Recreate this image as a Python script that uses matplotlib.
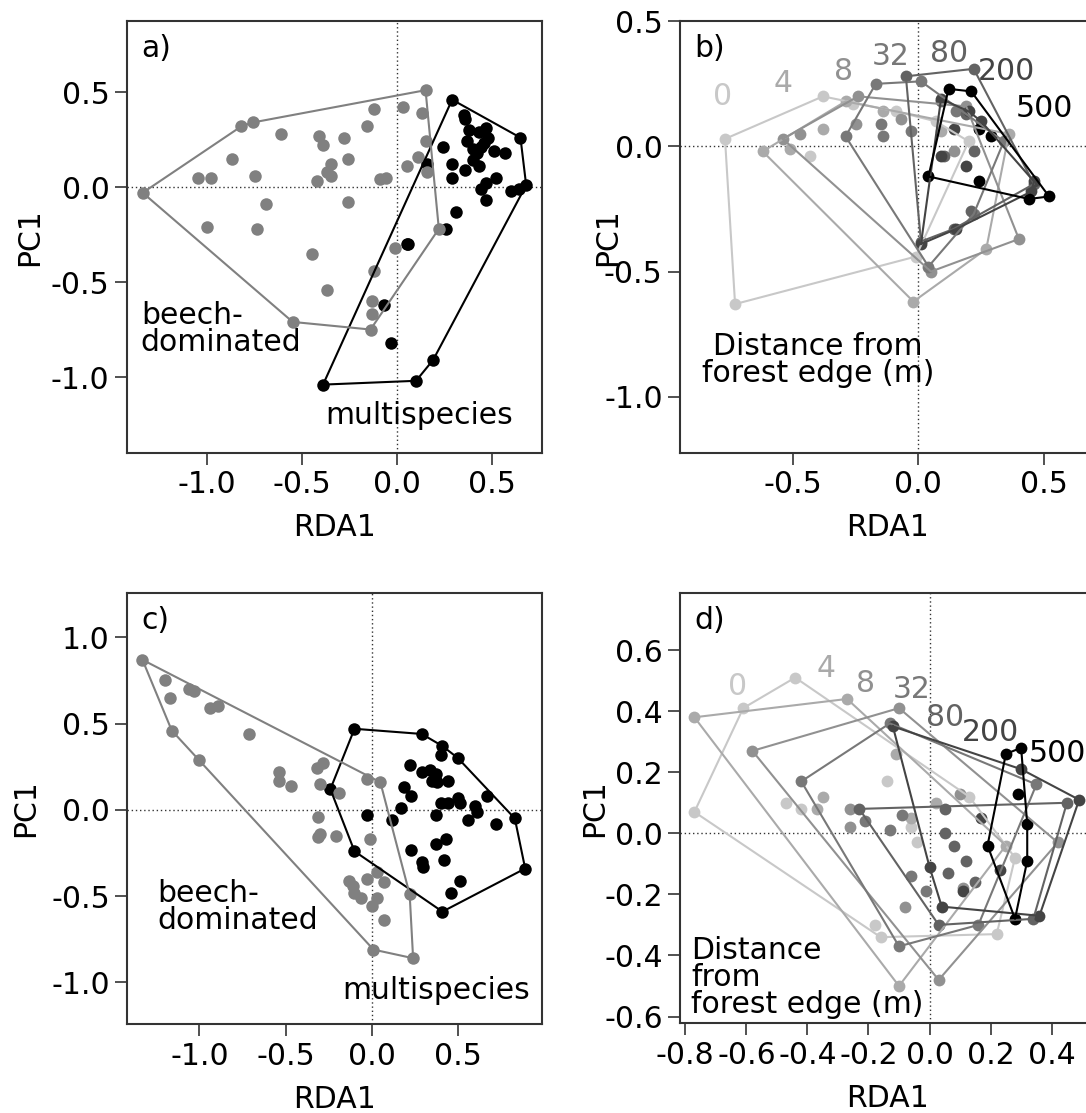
import matplotlib
matplotlib.use("Agg")
import matplotlib.pyplot as plt

plt.rcParams['font.family'] = 'DejaVu Sans'
plt.rcParams['font.size'] = 21.5
plt.rcParams['axes.unicode_minus'] = False

# ---- panel a: forest type (beech-dominated vs multispecies)
a_beech = [(-1.34, -0.03), (-1.05, 0.05), (-0.98, 0.05), (-0.87, 0.15), (-0.82, 0.32),
           (-0.76, 0.34), (-0.75, 0.06), (-0.61, 0.28), (-0.69, -0.09), (-1.00, -0.21),
           (-0.74, -0.22), (-0.45, -0.35), (-0.37, -0.54), (-0.55, -0.71), (-0.41, 0.27),
           (-0.39, 0.22), (-0.42, 0.03), (-0.37, 0.08), (-0.35, 0.12), (-0.35, 0.06),
           (-0.28, 0.26), (-0.26, 0.15), (-0.26, -0.08), (-0.16, 0.32), (-0.12, 0.41),
           (-0.09, 0.04), (-0.06, 0.05), (0.03, 0.42), (0.13, 0.39), (0.15, 0.51),
           (0.15, 0.24), (0.11, 0.16), (0.05, 0.11), (0.16, 0.08), (0.22, -0.22),
           (-0.01, -0.32), (-0.12, -0.44), (-0.13, -0.60), (-0.13, -0.67), (-0.14, -0.75)]
a_multi = [(0.29, 0.46), (0.35, 0.38), (0.36, 0.36), (0.38, 0.30), (0.43, 0.29),
           (0.47, 0.31), (0.48, 0.26), (0.37, 0.24), (0.40, 0.20), (0.44, 0.21),
           (0.42, 0.18), (0.46, 0.23), (0.51, 0.19), (0.57, 0.18), (0.65, 0.26),
           (0.24, 0.21), (0.29, 0.12), (0.29, 0.05), (0.36, 0.09), (0.43, 0.11),
           (0.40, 0.14), (0.52, 0.05), (0.47, 0.02), (0.44, -0.01), (0.47, -0.07),
           (0.60, -0.02), (0.64, -0.01), (0.68, 0.01), (0.31, -0.13), (0.26, -0.22),
           (0.05, -0.30), (0.06, -0.30), (-0.07, -0.62), (-0.03, -0.82), (0.19, -0.91),
           (0.10, -1.02), (-0.39, -1.04), (0.16, 0.12)]

# ---- panel b: distance from forest edge (m)
distances = ['0', '4', '8', '32', '80', '200', '500']
greys = ['#c8c8c8', '#aaaaaa', '#919191', '#787878', '#636363', '#444444', '#000000']
b_0 = [(-0.77, 0.03), (-0.38, 0.20), (0.20, 0.02), (-0.01, -0.44), (-0.73, -0.63),
       (-0.43, -0.04), (-0.26, 0.17), (-0.09, 0.14), (0.07, 0.10)]
b_4 = [(-0.62, -0.02), (-0.29, 0.18), (0.36, 0.05), (0.27, -0.41), (-0.02, -0.62),
       (-0.51, -0.01), (-0.38, 0.07), (-0.14, 0.14), (0.09, 0.06)]
b_8 = [(-0.54, 0.03), (-0.24, 0.20), (0.19, 0.16), (0.40, -0.37), (0.05, -0.50),
       (-0.47, 0.05), (-0.25, 0.09), (-0.07, 0.11), (0.14, -0.02)]
b_32 = [(-0.29, 0.04), (-0.17, 0.25), (0.01, 0.26), (0.34, 0.02), (0.22, -0.27),
        (0.04, -0.48), (-0.14, 0.04), (-0.03, 0.06), (0.15, 0.14), (-0.15, 0.09)]
b_80 = [(-0.05, 0.28), (0.22, 0.31), (0.46, -0.15), (0.14, -0.33), (0.01, -0.38),
        (0.09, 0.18), (0.19, 0.13), (0.22, -0.02), (0.10, -0.04), (0.21, -0.26)]
b_200 = [(0.09, 0.19), (0.20, 0.14), (0.46, -0.14), (0.45, -0.18), (0.15, -0.33),
         (0.01, -0.39), (0.14, 0.07), (0.25, 0.10), (0.19, -0.08), (0.09, -0.04)]
b_500 = [(0.12, 0.23), (0.21, 0.22), (0.52, -0.20), (0.44, -0.21), (0.04, -0.12),
         (0.24, 0.07), (0.29, 0.04), (0.24, -0.14)]
b_lab = [(-0.78, 0.20), (-0.54, 0.25), (-0.30, 0.30), (-0.11, 0.36), (0.12, 0.37),
         (0.35, 0.30), (0.50, 0.15)]

# ---- panel c: forest type, second data set
c_beech = [(-1.33, 0.87), (-1.20, 0.75), (-1.17, 0.65), (-1.06, 0.70), (-1.03, 0.69),
           (-0.94, 0.59), (-0.89, 0.60), (-1.16, 0.46), (-1.00, 0.29), (-0.71, 0.44),
           (-0.54, 0.22), (-0.54, 0.17), (-0.47, 0.14), (-0.32, 0.24), (-0.28, 0.27),
           (-0.30, 0.15), (-0.19, 0.10), (-0.03, 0.18), (0.05, 0.16), (-0.31, -0.04),
           (-0.31, -0.16), (-0.30, -0.14), (-0.21, -0.15), (-0.01, -0.17), (-0.13, -0.41),
           (-0.10, -0.48), (-0.06, -0.51), (-0.03, -0.40), (0.03, -0.36), (0.07, -0.42),
           (0.03, -0.51), (0.00, -0.56), (0.07, -0.64), (0.22, -0.49), (0.01, -0.81),
           (0.24, -0.86), (-0.11, -0.44)]
c_multi = [(-0.10, 0.47), (0.29, 0.44), (0.41, 0.37), (0.40, 0.32), (0.50, 0.30),
           (0.22, 0.26), (0.29, 0.22), (0.34, 0.23), (0.37, 0.21), (0.38, 0.16),
           (0.44, 0.17), (0.35, 0.17), (0.19, 0.13), (0.23, 0.08), (0.17, 0.01),
           (0.12, -0.06), (-0.03, -0.03), (0.37, -0.03), (0.40, 0.04), (0.44, 0.04),
           (0.50, 0.07), (0.51, 0.04), (0.60, 0.02), (0.61, -0.01), (0.67, 0.08),
           (0.56, -0.06), (0.72, -0.08), (0.83, -0.05), (0.89, -0.34), (0.23, -0.23),
           (0.37, -0.20), (0.43, -0.17), (0.42, -0.29), (0.29, -0.30), (0.30, -0.33),
           (0.51, -0.41), (0.46, -0.48), (0.41, -0.59), (-0.10, -0.24), (-0.24, 0.12)]

# ---- panel d: distance from forest edge, second data set
d_0 = [(-0.77, 0.07), (-0.61, 0.41), (-0.44, 0.51), (0.13, 0.12), (0.22, -0.33),
       (-0.18, -0.30), (-0.47, 0.10), (-0.42, 0.08), (-0.14, 0.17), (-0.06, 0.02),
       (-0.04, -0.03), (-0.16, -0.34), (0.28, -0.08)]
d_4 = [(-0.77, 0.38), (-0.27, 0.44), (0.25, -0.04), (-0.10, -0.50), (-0.37, 0.08),
       (-0.35, 0.12), (-0.11, 0.26), (-0.06, 0.05), (0.02, 0.10)]
d_8 = [(-0.58, 0.27), (-0.10, 0.41), (0.42, -0.03), (0.03, -0.48), (-0.26, 0.08),
       (-0.26, 0.02), (-0.08, -0.24), (0.10, 0.13), (0.11, -0.18)]
d_32 = [(-0.42, 0.17), (-0.13, 0.36), (0.35, 0.16), (0.16, -0.30), (-0.10, -0.37),
        (-0.21, 0.04), (-0.13, 0.01), (-0.09, 0.06), (-0.06, -0.14), (-0.01, -0.19)]
d_80 = [(-0.23, 0.08), (0.45, 0.10), (0.34, -0.28), (0.03, -0.30), (0.05, 0.08),
        (0.05, 0.00), (0.08, -0.04), (0.12, -0.09), (0.15, -0.16), (0.06, -0.13)]
d_200 = [(-0.12, 0.35), (0.49, 0.11), (0.36, -0.27), (0.04, -0.24), (0.30, 0.21),
         (0.17, 0.05), (0.23, -0.12), (0.11, -0.19), (0.00, -0.11)]
d_500 = [(0.25, 0.26), (0.30, 0.28), (0.32, 0.03), (0.32, -0.09), (0.28, -0.28),
         (0.19, -0.04), (0.29, 0.13)]
d_lab = [(-0.63, 0.48), (-0.34, 0.54), (-0.21, 0.49), (-0.06, 0.47), (0.05, 0.38),
         (0.20, 0.33), (0.42, 0.26)]


def hull(pts):
    pts = sorted(set(pts))

    def cross(o, a, b):
        return (a[0] - o[0]) * (b[1] - o[1]) - (a[1] - o[1]) * (b[0] - o[0])
    lower, upper = [], []
    for p in pts:
        while len(lower) >= 2 and cross(lower[-2], lower[-1], p) <= 0:
            lower.pop()
        lower.append(p)
    for p in reversed(pts):
        while len(upper) >= 2 and cross(upper[-2], upper[-1], p) <= 0:
            upper.pop()
        upper.append(p)
    h = lower[:-1] + upper[:-1]
    return h + h[:1]


def draw_group(ax, pts, col, ms):
    xs, ys = zip(*pts)
    ax.plot(xs, ys, 'o', color=col, ms=ms, mec='none', zorder=3)
    hx, hy = zip(*hull(pts))
    ax.plot(hx, hy, '-', color=col, lw=1.5, zorder=4)


def setup(ax, xlim, ylim, xt, yt, letter, ylab_x):
    ax.set_xlim(xlim)
    ax.set_ylim(ylim)
    ax.set_xticks(xt)
    ax.set_yticks(yt)
    ax.set_xticklabels(['%.1f' % v for v in xt])
    ax.set_yticklabels(['%.1f' % v for v in yt])
    ax.axhline(0, color='#333333', lw=1, ls=(0, (1, 2)), zorder=1)
    ax.axvline(0, color='#333333', lw=1, ls=(0, (1, 2)), zorder=1)
    ax.tick_params(length=8.5, width=1.2, color='#333333', pad=4, labelsize=21.5)
    for s in ax.spines.values():
        s.set_linewidth(1.5)
        s.set_color('#333333')
    ax.set_xlabel('RDA1', labelpad=10)
    ax.set_ylabel('PC1')
    ax.yaxis.set_label_coords(ylab_x, 0.5)
    ax.text(0.035, 0.97, letter, transform=ax.transAxes, ha='left', va='top')


fig = plt.figure(figsize=(10.86, 11.13), dpi=100)
ax_a = fig.add_axes([0.1169, 0.5930, 0.3821, 0.3881])
ax_b = fig.add_axes([0.6262, 0.5930, 0.3821, 0.3881])
ax_c = fig.add_axes([0.1172, 0.0797, 0.3821, 0.3878])
ax_d = fig.add_axes([0.6262, 0.0806, 0.3821, 0.3869])

# a)
draw_group(ax_a, a_multi, 'black', 9)
draw_group(ax_a, a_beech, '#808080', 9)
setup(ax_a, (-1.423, 0.763), (-1.40, 0.874), [-1.0, -0.5, 0.0, 0.5],
      [-1.0, -0.5, 0.0, 0.5], 'a)', -0.20)
ax_a.text(-1.35, -0.60, 'beech-\ndominated', ha='left', va='top', linespacing=0.92)
ax_a.text(0.61, -1.25, 'multispecies', ha='right', va='baseline')

# b)
b_groups = [b_0, b_4, b_8, b_32, b_80, b_200, b_500]
for pts, col in zip(b_groups, greys):
    draw_group(ax_b, pts, col, 8.5)
for (lx, ly), lab, col in zip(b_lab, distances, greys):
    ax_b.text(lx, ly, lab, color=col, ha='center', va='center')
setup(ax_b, (-0.949, 0.703), (-1.225, 0.501), [-0.5, 0.0, 0.5],
      [-1.0, -0.5, 0.0, 0.5], 'b)', -0.14)
ax_b.text(-0.40, -0.74, 'Distance from\nforest edge (m)', ha='center', va='top',
          linespacing=0.92)

# c)
draw_group(ax_c, c_multi, 'black', 9)
draw_group(ax_c, c_beech, '#808080', 9)
setup(ax_c, (-1.418, 0.989), (-1.243, 1.259), [-1.0, -0.5, 0.0, 0.5],
      [-1.0, -0.5, 0.0, 0.5, 1.0], 'c)', -0.21)
ax_c.text(-1.245, -0.40, 'beech-\ndominated', ha='left', va='top', linespacing=0.92)
ax_c.text(0.916, -1.096, 'multispecies', ha='right', va='baseline')

# d)
d_groups = [d_0, d_4, d_8, d_32, d_80, d_200, d_500]
for pts, col in zip(d_groups, greys):
    draw_group(ax_d, pts, col, 8.5)
for (lx, ly), lab, col in zip(d_lab, distances, greys):
    ax_d.text(lx, ly, lab, color=col, ha='center', va='center')
setup(ax_d, (-0.817, 0.542), (-0.622, 0.788), [-0.8, -0.6, -0.4, -0.2, 0.0, 0.2, 0.4],
      [-0.6, -0.4, -0.2, 0.0, 0.2, 0.4, 0.6], 'd)', -0.17)
ax_d.text(-0.78, -0.335, 'Distance\nfrom\nforest edge (m)', ha='left', va='top',
          linespacing=0.92)

fig.savefig('out.png', dpi=100)
